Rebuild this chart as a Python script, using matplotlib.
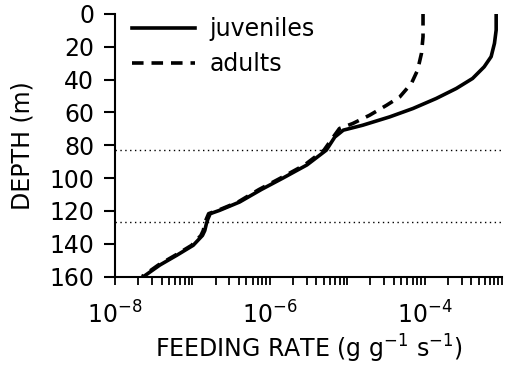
import numpy as np
import matplotlib
matplotlib.use('Agg')
import matplotlib.pyplot as plt
from matplotlib.ticker import LogLocator, FuncFormatter, NullFormatter, MultipleLocator

# depth (m) and log10 feeding rate (g g-1 s-1)
juv_depth = [0, 9.8, 17.9, 26, 32.2, 39.3, 45.4, 51.5, 57.6, 62.7, 67.8,
             70.8, 75, 83, 92, 100, 107, 114.6, 119.7, 121.7, 125, 128,
             132, 135, 141, 147, 153, 160]
juv_log = [-3.075, -3.075, -3.097, -3.14, -3.23, -3.38, -3.59, -3.85, -4.15,
           -4.45, -4.80, -5.05, -5.16, -5.27, -5.52, -5.83, -6.11, -6.39,
           -6.65, -6.77, -6.80, -6.82, -6.84, -6.87, -6.99, -7.20, -7.42,
           -7.63]

adu_depth = [0, 13.9, 24, 34.2, 42.3, 50.5, 55.6, 61.7, 66.8, 69.8, 75, 83,
             92, 100, 107, 114.6, 119.7, 121.7, 125, 128, 132, 135, 141, 147,
             153, 160]
adu_log = [-4.02, -4.02, -4.04, -4.09, -4.17, -4.32, -4.49, -4.71, -4.93,
           -5.10, -5.18, -5.30, -5.55, -5.86, -6.14, -6.41, -6.67, -6.79,
           -6.82, -6.84, -6.86, -6.89, -7.01, -7.22, -7.44, -7.65]

# depths of the dotted reference lines
ref_depths = [83, 127]

labelled = [-8, -6, -4]

plt.rcParams['font.family'] = ['DejaVu Sans']
plt.rcParams['font.size'] = 17

fig = plt.figure(figsize=(5.05, 3.68), dpi=100)
ax = fig.add_axes([0.2277, 0.2486, 0.7663, 0.7134])

ax.plot(10 ** np.array(juv_log), juv_depth, color='black', lw=2.6,
        label='juveniles', solid_joinstyle='round')
ax.plot(10 ** np.array(adu_log), adu_depth, color='black', lw=2.6,
        dashes=(3.2, 2.2), label='adults')

for d in ref_depths:
    ax.axhline(d, color='black', lw=1.0, dashes=(1, 2.5), clip_on=False)

ax.set_xscale('log')
ax.set_xlim(1e-8, 1e-3)
ax.set_ylim(160, 0)

ax.xaxis.set_major_locator(LogLocator(base=10, numticks=10))
ax.xaxis.set_minor_locator(LogLocator(base=10, subs=np.arange(2, 10), numticks=20))
ax.xaxis.set_major_formatter(FuncFormatter(
    lambda v, p: r'$10^{%d}$' % round(np.log10(v)) if round(np.log10(v)) in labelled else ''))
ax.xaxis.set_minor_formatter(NullFormatter())
ax.yaxis.set_major_locator(MultipleLocator(20))

for s in ['top', 'right']:
    ax.spines[s].set_visible(False)
for s in ['left', 'bottom']:
    ax.spines[s].set_linewidth(1.5)

ax.tick_params(axis='x', which='both', direction='out', length=6, width=1.3, pad=12)
ax.tick_params(axis='y', direction='out', length=8, width=1.5, pad=7)

ax.set_xlabel(r'FEEDING RATE (g g$^{-1}$ s$^{-1}$)', labelpad=3)
ax.set_ylabel('DEPTH (m)', labelpad=11)

ax.legend(loc='upper left', bbox_to_anchor=(0.0, 1.05), frameon=False,
          handlelength=2.7, handletextpad=0.6, labelspacing=0.45,
          borderaxespad=0.3)

plt.savefig('out.png', dpi=100)
